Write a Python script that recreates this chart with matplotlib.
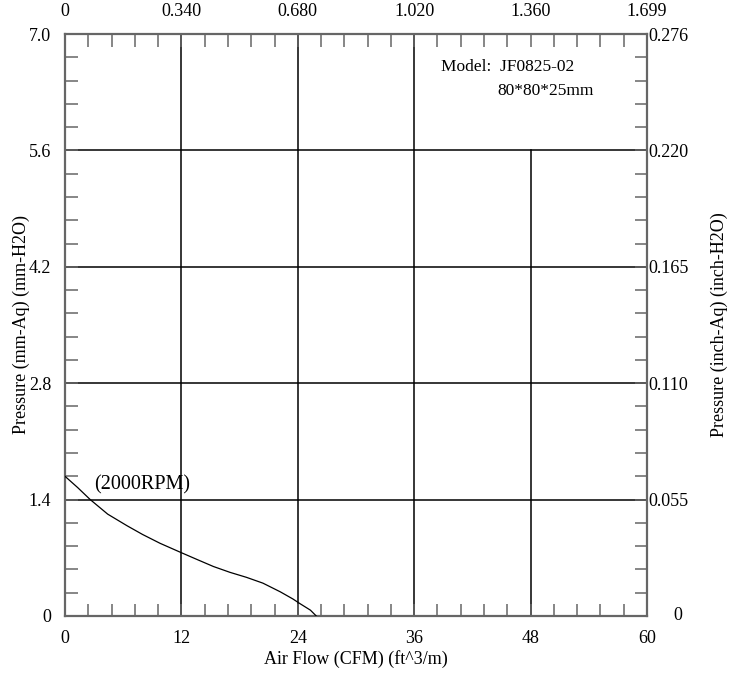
"""
Fan P-Q curve, JF0825-02
"""

import numpy as np
import matplotlib.pyplot as plt
from matplotlib.ticker import MultipleLocator

plt.rcParams['font.family'] = ['Liberation Serif', 'DejaVu Serif']
plt.rcParams['font.size'] = 13

# ---------------------------------------------------------------------------- #
# Data
# ---------------------------------------------------------------------------- #
flow_cfm = [0, 1.3, 2.6, 4.4, 6.4, 8.0, 9.8, 11.9, 13.6, 15.3, 17.0, 18.7,
            20.4, 22.2, 23.5, 24.2, 25.3, 25.9]
pressure_mm = [1.68, 1.545, 1.40, 1.225, 1.085, 0.98, 0.874, 0.766, 0.68, 0.595,
               0.525, 0.465, 0.395, 0.29, 0.204, 0.15, 0.07, 0.0]

x_ticks = [0, 12, 24, 36, 48, 60]
y_ticks = [0, 1.4, 2.8, 4.2, 5.6, 7.0]
top_labels = ['0', '0.340', '0.680', '1.020', '1.360', '1.699']
right_labels = ['', '0.055', '0.110', '0.165', '0.220', '0.276']

spine_col = '#666666'

fig = plt.figure(figsize=(7.32, 6.76), dpi=100)
ax = fig.add_axes([0.0888, 0.0888, 0.7951, 0.8609])

# grid lines
for xv in [12, 24, 36]:
    ax.plot([xv, xv], [0, 7.0], color='black', lw=1.1, zorder=1)
ax.plot([48, 48], [0, 5.6], color='black', lw=1.1, zorder=1)
for yv in [1.4, 2.8, 4.2, 5.6]:
    ax.plot([0, 60], [yv, yv], color='black', lw=1.1, zorder=1)

# curve
ax.plot(flow_cfm, pressure_mm, color='black', lw=0.9, zorder=3)
ax.text(3.0, 1.46, '(2000RPM)', fontsize=14.5, va='bottom', ha='left')

ax.text(38.8, 6.6, 'Model:  JF0825-02', fontsize=12.5, va='center')
ax.text(44.6, 6.32, '80*80*25mm', fontsize=12.5, va='center')

ax.set_xlim(0, 60)
ax.set_ylim(0, 7.0)
ax.set_xticks(x_ticks)
ax.set_yticks(y_ticks)
ax.set_yticklabels(['0', '1.4', '2.8', '4.2', '5.6', '7.0'])
ax.xaxis.set_minor_locator(MultipleLocator(2.4))
ax.yaxis.set_minor_locator(MultipleLocator(0.28))
ax.tick_params(which='both', direction='in', length=9, width=1.1, color=spine_col,
               top=True, right=True, labeltop=False, labelbottom=True,
               labelleft=True, labelright=False)
ax.tick_params(axis='x', which='major', pad=10)
ax.tick_params(axis='y', which='major', pad=10)
ax.set_xticklabels([str(v) for v in x_ticks])

# top and right labels via secondary axes
sec_top = ax.secondary_xaxis('top')
sec_top.set_xticks(x_ticks)
sec_top.set_xticklabels(top_labels)
sec_top.tick_params(length=0, pad=10)

sec_right = ax.secondary_yaxis('right')
sec_right.set_yticks(y_ticks)
sec_right.set_yticklabels(right_labels)
sec_right.tick_params(length=0, pad=1)
ax.text(1.045, 0.0, '0', transform=ax.transAxes, va='center', ha='left', fontsize=13)

for s in ax.spines.values():
    s.set_color(spine_col)
    s.set_linewidth(1.6)
for sa in (sec_top, sec_right):
    for s in sa.spines.values():
        s.set_visible(False)

ax.set_xlabel('Air Flow (CFM) (ft^3/m)', fontsize=13, labelpad=2)
ax.set_ylabel('Pressure (mm-Aq) (mm-H2O)', fontsize=13, labelpad=-1)
sec_right.set_ylabel('Pressure (inch-Aq) (inch-H2O)', fontsize=13, labelpad=16)

fig.savefig('out.png', dpi=100)
plt.close()
